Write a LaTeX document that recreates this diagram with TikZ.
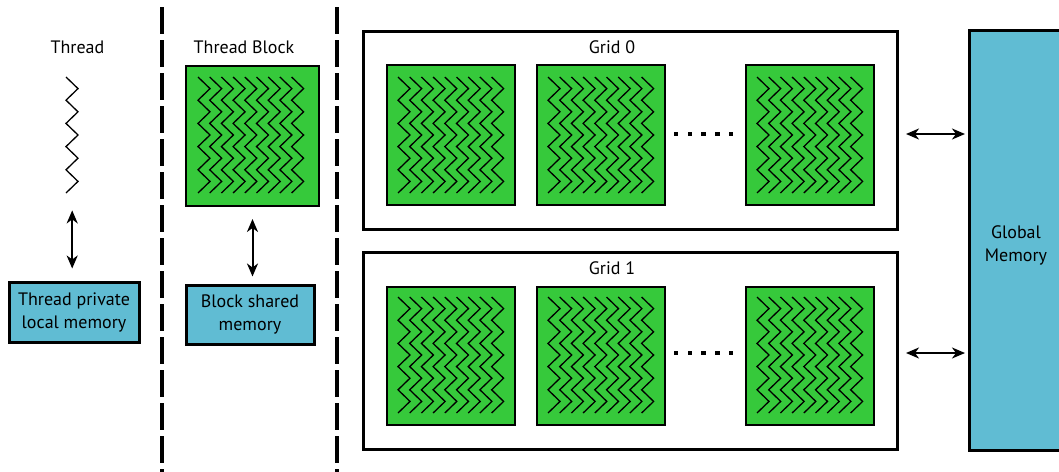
\documentclass[tikz,border=0pt]{standalone}
\usepackage{fontspec}
\setmainfont{PT Sans}
\usetikzlibrary{arrows.meta,calc}
\definecolor{blockgreen}{RGB}{54,201,59}
\definecolor{memblue}{RGB}{96,188,211}

\begin{document}
\begin{tikzpicture}[x=1pt,y=-1pt,
  lbl/.style={font=\fontsize{18}{23}\selectfont, align=center, inner sep=0pt},
  zigline/.style={line width=1.3pt, black, line join=miter},
  blockbox/.style={draw, line width=2pt, fill=blockgreen, inner sep=0pt, anchor=north west},
  membox/.style={draw, line width=3pt, fill=memblue, inner sep=0pt, lbl},
  gridbox/.style={draw, line width=3pt, inner sep=0pt, anchor=north west},
  divider/.style={line width=4pt, dash pattern=on 27pt off 6pt},
  dbl/.style={line width=2pt, {Stealth[length=13pt,width=11pt,inset=4pt]}-{Stealth[length=13pt,width=11pt,inset=4pt]}},
  zz/.pic={\draw[zigline] (0,0) \foreach \k in {1,...,5}{ -- ++(12,11.6) -- ++(-12,11.6)};},
  zzset/.pic={\foreach \i in {0,...,8} \pic at (\i*11.7,0) {zz};},
  dotrow/.pic={\foreach \i in {-2,...,2} \fill (\i*13.8-2.2,-2.2) rectangle ++(4.4,4.4);},
]
\clip (0,0) rectangle (1059,471);

% column dividers
\draw[divider] (162,7) -- (162,480);
\draw[divider] (337,7) -- (337,480);

% --- thread ---
\node[lbl] (thrlabel) at (77.5,47) {Thread};
\node[inner sep=0pt, minimum width=12pt, minimum height=116pt, anchor=north west] (thr) at (66,77) {};
\pic at (thr.north west) {zz};
\node[membox, minimum width=130pt, minimum height=60pt] (tmem) at (74,312) {Thread private\\local memory};
\draw[dbl, shorten <=17pt, shorten >=12pt] (thr.south) -- (thr.south |- tmem.north);

% --- thread block ---
\node[lbl] (tblabel) at (244,47) {Thread Block};
\node[blockbox, minimum width=133pt, minimum height=140pt] (tb) at (185,65) {};
\pic at (198,77) {zzset};
\node[membox, minimum width=128pt, minimum height=59pt] (bmem) at (250,314.5) {Block shared\\memory};
\draw[dbl, shorten <=12pt, shorten >=7pt] (tb.south) -- (tb.south |- bmem.north);

% --- grids ---
\node[gridbox, minimum width=534pt, minimum height=198pt] (g0) at (362,30) {};
\node[gridbox, minimum width=534pt, minimum height=197pt] (g1) at (362,251) {};
\node[lbl] (g0label) at (612,47) {Grid 0};
\node[lbl] (g1label) at (612,268) {Grid 1};

\foreach \bx/\nm in {386/a, 536/b, 745/c}{
  \node[blockbox, minimum width=128pt, minimum height=140pt] (g0\nm) at (\bx,64) {};
  \pic at (\bx+12,77) {zzset};
  \node[blockbox, minimum width=128pt, minimum height=138pt] (g1\nm) at (\bx,286) {};
  \pic at (\bx+12,297) {zzset};
}
\node[inner sep=0pt, minimum width=60pt, minimum height=5pt] (ell0) at (703.5,134) {};
\pic at (ell0) {dotrow};
\node[inner sep=0pt, minimum width=60pt, minimum height=5pt] (ell1) at (703.5,353) {};
\pic at (ell1) {dotrow};

% --- global memory ---
\node[draw, line width=3pt, fill=memblue, inner sep=0pt, anchor=north west,
      minimum width=110pt, minimum height=420pt] (gmem) at (968,29) {};
\node[lbl] (gmlabel) at (1016,245) {Global\\Memory};

\draw[dbl, shorten <=7pt, shorten >=3pt] (ell0 -| g0.east) -- (ell0 -| gmem.west);
\draw[dbl, shorten <=7pt, shorten >=3pt] (ell1 -| g1.east) -- (ell1 -| gmem.west);
\end{tikzpicture}
\end{document}
